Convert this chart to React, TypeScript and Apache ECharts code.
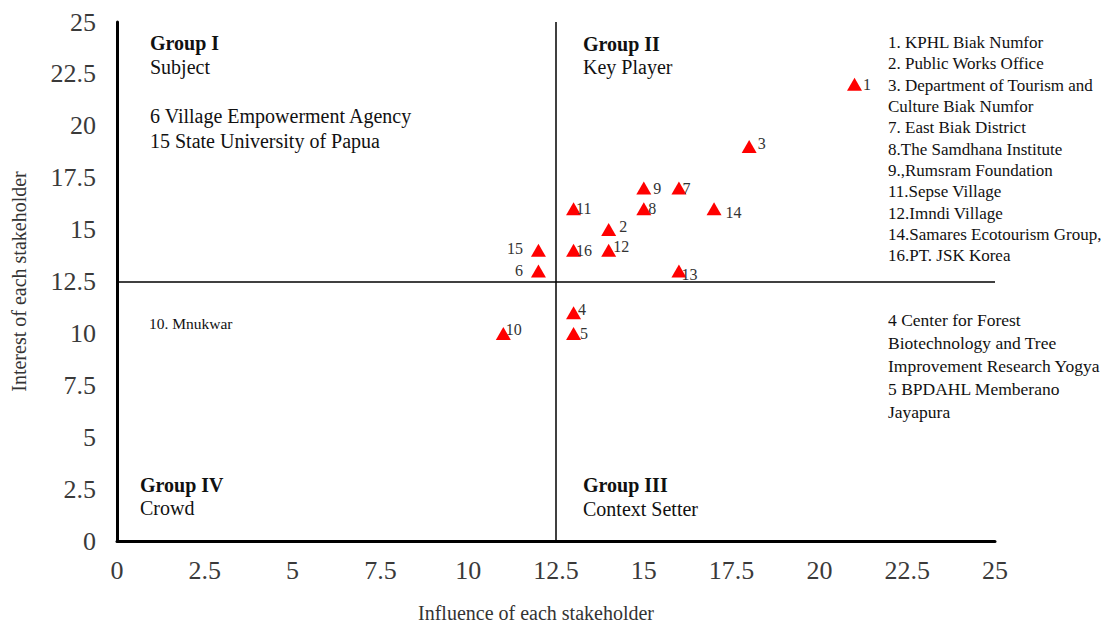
import React, { useEffect, useRef } from "react";
import * as echarts from "echarts";

const ids = ["1", "2", "3", "4", "5", "6", "7", "8", "9", "10", "11", "12", "13", "14", "15", "16"];
const influence = [21, 14, 18, 13, 13, 12, 16, 15, 15, 11, 13, 14, 16, 17, 12, 13];
const interest = [22, 15, 19, 11, 10, 13, 17, 16, 17, 10, 16, 14, 13, 16, 14, 14];
const tickValues = [0, 2.5, 5, 7.5, 10, 12.5, 15, 17.5, 20, 22.5, 25];

const keyPlayerList = [
  "1. KPHL Biak Numfor",
  "2. Public Works Office",
  "3. Department of Tourism and",
  "Culture Biak Numfor",
  "7. East Biak District",
  "8.The Samdhana Institute",
  "9.,Rumsram Foundation",
  "11.Sepse Village",
  "12.Imndi Village",
  "14.Samares Ecotourism Group,",
  "16.PT. JSK Korea",
];
const contextSetterList = [
  "4 Center for Forest",
  "Biotechnology and Tree",
  "Improvement Research Yogya",
  "5 BPDAHL Memberano",
  "Jayapura",
];
const subjectList = ["6 Village Empowerment Agency", "15 State University of Papua"];
const crowdList = ["10. Mnukwar"];

// label placement per point (style only)
const labelStyle: Record<string, { position: string; offset: [number, number] }> = {
  "1": { position: "right", offset: [-4, 0] },
  "2": { position: "right", offset: [-2, -3] },
  "3": { position: "right", offset: [-4, -3] },
  "4": { position: "right", offset: [-8, -3] },
  "5": { position: "right", offset: [-6, 0] },
  "6": { position: "left", offset: [-3, -1] },
  "7": { position: "right", offset: [-9, 0] },
  "8": { position: "right", offset: [-8, 0] },
  "9": { position: "right", offset: [-3, 0] },
  "10": { position: "right", offset: [-10, -4] },
  "11": { position: "right", offset: [-10, 0] },
  "12": { position: "right", offset: [-8, -4] },
  "13": { position: "right", offset: [-10, 3] },
  "14": { position: "right", offset: [-1, 4] },
  "15": { position: "left", offset: [-3, -2] },
  "16": { position: "right", offset: [-10, 0] },
};

const FONT = "Liberation Serif";

export default function App() {
  const ref = useRef<HTMLDivElement>(null);
  useEffect(() => {
    if (!ref.current) return;
    const chart = echarts.init(ref.current, null, { renderer: "svg" });
    const data = ids.map((id, i) => ({
      value: [influence[i], interest[i]],
      name: id,
      label: {
        show: true,
        formatter: id,
        position: labelStyle[id].position,
        offset: labelStyle[id].offset,
        fontSize: 16,
        fontFamily: FONT,
        color: "#333",
      },
    }));

    const txt = (x: number, y: number, text: string, size: number, bold = false, lh = 0) => ({
      type: "text",
      x,
      y,
      silent: true,
      style: {
        text,
        fill: "#111",
        font: `${bold ? "bold " : ""}${size}px ${FONT}`,
        lineHeight: lh || size * 1.2,
        textVerticalAlign: "top",
        verticalAlign: "top",
      },
    });

    chart.setOption({
      animation: false,
      backgroundColor: "#ffffff",
      grid: { left: 117, right: 115, top: 22, bottom: 85, containLabel: false },
      xAxis: {
        type: "value",
        min: 0,
        max: 25,
        interval: 2.5,
        name: "Influence of each stakeholder",
        nameLocation: "middle",
        nameGap: 62,
        nameTextStyle: { fontFamily: FONT, fontSize: 20, color: "#333", padding: [0, 40, 0, 0] },
        axisLine: { show: true, lineStyle: { color: "#000", width: 3 } },
        axisTick: { show: false },
        splitLine: { show: false },
        axisLabel: {
          fontFamily: FONT,
          fontSize: 26,
          color: "#3a3a3a",
          margin: 16,
          formatter: (v: number) => (tickValues.includes(v) ? String(v) : ""),
        },
      },
      yAxis: {
        type: "value",
        min: 0,
        max: 25,
        interval: 2.5,
        name: "Interest of each stakeholder",
        nameLocation: "middle",
        nameGap: 88,
        nameTextStyle: { fontFamily: FONT, fontSize: 20, color: "#333" },
        axisLine: { show: true, lineStyle: { color: "#000", width: 3 } },
        axisTick: { show: false },
        splitLine: { show: false },
        axisLabel: {
          fontFamily: FONT,
          fontSize: 26,
          color: "#3a3a3a",
          margin: 21,
          formatter: (v: number) => (tickValues.includes(v) ? String(v) : ""),
        },
      },
      series: [
        {
          type: "scatter",
          symbol: "triangle",
          symbolSize: [15, 13],
          itemStyle: { color: "#ff0000", opacity: 1 },
          data,
          z: 5,
          markLine: {
            silent: true,
            symbol: "none",
            label: { show: false },
            lineStyle: { color: "#000", width: 1.5, type: "solid" },
            data: [{ xAxis: 12.5 }, { yAxis: 12.5 }],
          },
        },
      ],
      graphic: [
        txt(150, 31, "Group I", 20, true),
        txt(150, 55, "Subject", 20),
        txt(150, 103, subjectList.join("\n"), 20, false, 25),
        txt(583, 32, "Group II", 20, true),
        txt(583, 55, "Key Player", 20),
        txt(888, 32, keyPlayerList.join("\n"), 17, false, 21.3),
        txt(149, 314, crowdList.join("\n"), 15.5),
        txt(888, 309, contextSetterList.join("\n"), 17.5, false, 22.8),
        txt(140, 473, "Group IV", 20, true),
        txt(140, 496, "Crowd", 20),
        txt(583, 473, "Group III", 20, true),
        txt(583, 497, "Context Setter", 20),
      ],
    });
    return () => chart.dispose();
  }, []);
  return (
    <div
      ref={ref}
      style={{ position: "absolute", left: 0, top: 0, width: 1110, height: 628, background: "#fff" }}
    />
  );
}
